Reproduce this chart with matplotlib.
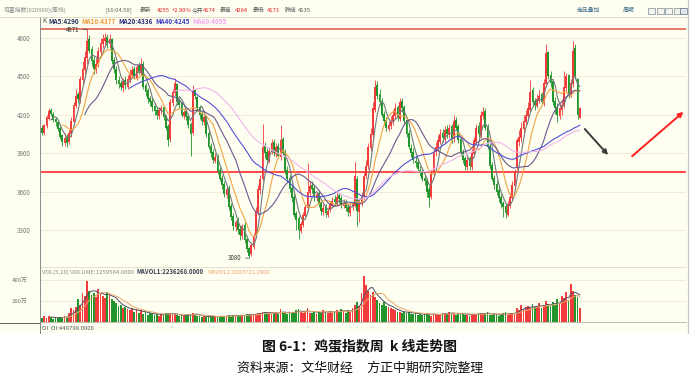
import numpy as np
import pandas as pd
import matplotlib
matplotlib.use('Agg')
import matplotlib.pyplot as plt
from matplotlib.patches import Rectangle
from matplotlib.lines import Line2D

plt.rcParams['font.family'] = ['Noto Sans CJK SC', 'DejaVu Sans']

# weekly egg index candles
opens = [4100, 4060, 4110, 4170, 4240, 4210, 4170, 4140, 4100, 4040,
         3980, 4030, 3990, 4050, 4140, 4270, 4360, 4310, 4470, 4550,
         4640, 4790, 4710, 4630, 4550, 4600, 4690, 4750, 4780, 4810,
         4750, 4790, 4630, 4560, 4470, 4450, 4410, 4470, 4420, 4470,
         4510, 4560, 4490, 4580, 4530, 4600, 4430, 4390, 4330, 4310,
         4270, 4240, 4190, 4230, 4260, 4190, 4110, 4010, 4290, 4370,
         4440, 4310, 4290, 4190, 4230, 4190, 4130, 4060, 4390, 4340,
         4260, 4210, 4140, 4190, 4060, 3960, 3910, 3840, 3880, 3770,
         3710, 3660, 3570, 3630, 3490, 3410, 3320, 3370, 3310, 3250,
         3340, 3230, 3160, 3110, 3170, 3260, 3440, 3610, 3700, 3960,
         3910, 3840, 3910, 3990, 3890, 3960, 3870, 4010, 3910, 3770,
         3710, 3630, 3560, 3430, 3390, 3290, 3340, 3410, 3470, 3590,
         3650, 3630, 3550, 3590, 3510, 3440, 3480, 3420, 3460, 3490,
         3540, 3510, 3570, 3550, 3490, 3520, 3480, 3430, 3490, 3490,
         3700, 3440, 3520, 3560, 3720, 3800, 3940, 4040, 4240, 4430,
         4360, 4310, 4210, 4160, 4090, 4110, 4140, 4190, 4260, 4170,
         4310, 4260, 4160, 4060, 3940, 3910, 3840, 3830, 3770, 3760,
         3710, 3690, 3620, 3560, 3750, 3910, 3940, 3990, 4060, 4010,
         4090, 4040, 4110, 4010, 4160, 4110, 4010, 3910, 3860, 3790,
         3860, 3790, 3890, 3990, 4110, 4040, 4190, 4230, 4110, 3960,
         3810, 3710, 3660, 3610, 3560, 3510, 3490, 3420, 3490, 3550,
         3640, 3790, 3990, 4020, 4090, 4140, 4190, 4240, 4390, 4310,
         4270, 4310, 4360, 4290, 4440, 4690, 4510, 4460, 4310, 4260,
         4190, 4240, 4270, 4410, 4510, 4360, 4440, 4720, 4480, 4174]
highs = [4120, 4130, 4200, 4250, 4250, 4220, 4180, 4150, 4110, 4050,
         4060, 4050, 4080, 4180, 4300, 4400, 4380, 4500, 4620, 4700,
         4871, 4820, 4740, 4660, 4640, 4730, 4800, 4830, 4840, 4830,
         4830, 4800, 4650, 4580, 4500, 4470, 4490, 4500, 4510, 4560,
         4580, 4580, 4600, 4610, 4640, 4620, 4450, 4410, 4350, 4330,
         4290, 4260, 4260, 4280, 4280, 4200, 4130, 4320, 4400, 4490,
         4450, 4330, 4300, 4240, 4250, 4200, 4140, 4430, 4400, 4350,
         4280, 4230, 4200, 4200, 4080, 3980, 3930, 3900, 3890, 3790,
         3730, 3680, 3650, 3650, 3510, 3430, 3380, 3400, 3340, 3350,
         3360, 3250, 3170, 3200, 3280, 3480, 3650, 3730, 4130, 3990,
         3940, 3950, 4010, 4010, 3980, 3980, 4120, 4030, 3930, 3800,
         3730, 3650, 3580, 3450, 3410, 3370, 3440, 3500, 3820, 3680,
         3680, 3650, 3600, 3610, 3530, 3500, 3500, 3480, 3530, 3560,
         3570, 3600, 3590, 3570, 3540, 3540, 3500, 3500, 3530, 3830,
         3720, 3540, 3600, 3750, 3850, 3980, 4100, 4300, 4470, 4460,
         4400, 4330, 4230, 4180, 4150, 4190, 4240, 4290, 4280, 4330,
         4330, 4280, 4180, 4080, 3970, 3940, 3880, 3860, 3800, 3780,
         3730, 3710, 3650, 3780, 3930, 3990, 4040, 4090, 4090, 4110,
         4120, 4130, 4130, 4200, 4180, 4130, 4030, 3930, 3880, 3880,
         3880, 3930, 4030, 4130, 4140, 4230, 4260, 4250, 4130, 3980,
         3830, 3730, 3690, 3640, 3580, 3530, 3510, 3530, 3590, 3680,
         3780, 4020, 4080, 4140, 4200, 4240, 4300, 4470, 4420, 4330,
         4360, 4390, 4380, 4480, 4750, 4700, 4540, 4480, 4340, 4290,
         4290, 4320, 4540, 4530, 4520, 4480, 4780, 4750, 4490, 4264]
lows = [4040, 4040, 4100, 4160, 4190, 4140, 4110, 4070, 4010, 3960,
        3960, 3950, 3970, 4030, 4120, 4250, 4290, 4290, 4440, 4520,
        4600, 4680, 4580, 4520, 4530, 4570, 4660, 4720, 4740, 4720,
        4720, 4600, 4530, 4440, 4410, 4390, 4380, 4400, 4400, 4450,
        4490, 4480, 4470, 4520, 4510, 4400, 4350, 4290, 4270, 4230,
        4200, 4170, 4170, 4210, 4160, 4080, 3960, 3990, 4270, 4350,
        4280, 4250, 4180, 4170, 4160, 4100, 3880, 4040, 4320, 4230,
        4170, 4120, 4120, 4030, 3930, 3870, 3820, 3820, 3740, 3680,
        3620, 3560, 3550, 3460, 3380, 3300, 3290, 3270, 3220, 3230,
        3200, 3130, 3080, 3100, 3150, 3240, 3420, 3580, 3680, 3860,
        3820, 3820, 3890, 3880, 3870, 3860, 3850, 3880, 3740, 3680,
        3600, 3520, 3400, 3300, 3230, 3280, 3320, 3390, 3450, 3560,
        3590, 3530, 3530, 3480, 3420, 3420, 3400, 3400, 3440, 3470,
        3490, 3490, 3510, 3470, 3470, 3450, 3410, 3410, 3460, 3480,
        3330, 3360, 3490, 3540, 3700, 3780, 3920, 4020, 4220, 4320,
        4280, 4180, 4120, 4070, 4070, 4090, 4120, 4170, 4150, 4150,
        4220, 4120, 4030, 3930, 3870, 3820, 3790, 3750, 3720, 3680,
        3650, 3560, 3480, 3540, 3720, 3880, 3920, 3970, 3990, 3980,
        4020, 4020, 3980, 3990, 4080, 3980, 3880, 3820, 3770, 3770,
        3770, 3770, 3870, 3970, 4030, 4020, 4170, 4080, 3930, 3780,
        3680, 3620, 3570, 3520, 3470, 3400, 3390, 3410, 3470, 3530,
        3620, 3770, 3960, 3990, 4060, 4120, 4170, 4220, 4270, 4240,
        4250, 4290, 4280, 4270, 4420, 4480, 4420, 4280, 4210, 4140,
        4170, 4200, 4250, 4380, 4330, 4340, 4420, 4480, 4170, 4173]
closes = [4060, 4120, 4180, 4230, 4210, 4160, 4140, 4090, 4030, 3990,
          4020, 3980, 4060, 4150, 4280, 4350, 4320, 4480, 4560, 4650,
          4780, 4700, 4620, 4560, 4600, 4700, 4760, 4790, 4800, 4760,
          4790, 4620, 4560, 4470, 4440, 4420, 4460, 4430, 4480, 4520,
          4550, 4500, 4570, 4540, 4600, 4420, 4380, 4320, 4300, 4260,
          4230, 4200, 4240, 4250, 4180, 4100, 4000, 4300, 4380, 4450,
          4300, 4280, 4200, 4220, 4180, 4120, 4050, 4380, 4350, 4250,
          4200, 4150, 4180, 4050, 3950, 3900, 3850, 3870, 3760, 3700,
          3650, 3580, 3620, 3480, 3400, 3330, 3360, 3300, 3260, 3330,
          3220, 3150, 3100, 3180, 3250, 3450, 3620, 3700, 3950, 3900,
          3850, 3920, 3980, 3900, 3950, 3880, 4000, 3900, 3760, 3700,
          3620, 3550, 3420, 3380, 3300, 3350, 3420, 3480, 3600, 3640,
          3620, 3560, 3580, 3500, 3450, 3470, 3430, 3450, 3500, 3530,
          3520, 3560, 3540, 3500, 3510, 3470, 3440, 3480, 3500, 3720,
          3450, 3520, 3560, 3720, 3800, 3950, 4050, 4250, 4420, 4350,
          4300, 4200, 4150, 4100, 4120, 4150, 4200, 4250, 4180, 4300,
          4250, 4150, 4050, 3950, 3900, 3850, 3820, 3780, 3750, 3700,
          3680, 3600, 3550, 3750, 3900, 3950, 4000, 4050, 4020, 4080,
          4050, 4100, 4000, 4150, 4100, 4000, 3900, 3850, 3800, 3850,
          3800, 3900, 4000, 4100, 4050, 4200, 4220, 4100, 3950, 3800,
          3700, 3650, 3600, 3550, 3500, 3480, 3430, 3500, 3560, 3650,
          3750, 4000, 4030, 4100, 4150, 4200, 4250, 4380, 4300, 4280,
          4320, 4350, 4300, 4450, 4680, 4500, 4450, 4300, 4250, 4200,
          4250, 4280, 4420, 4500, 4350, 4450, 4700, 4500, 4200, 4255]
# volume in 万
volumes = [40, 55, 35, 60, 45, 30, 35, 40, 50, 45,
           60, 40, 90, 130, 110, 140, 220, 160, 280, 250,
           390, 300, 260, 280, 240, 310, 270, 250, 230, 290,
           260, 220, 200, 180, 150, 160, 130, 140, 120, 110,
           130, 100, 120, 90, 110, 80, 95, 70, 85, 75,
           70, 80, 60, 75, 65, 85, 90, 80, 70, 75,
           65, 60, 70, 55, 60, 75, 80, 85, 70, 60,
           55, 50, 60, 45, 55, 50, 60, 45, 50, 55,
           60, 55, 50, 65, 55, 70, 60, 55, 65, 70,
           60, 75, 80, 70, 65, 80, 90, 85, 100, 95,
           80, 90, 75, 85, 95, 80, 120, 90, 85, 75,
           95, 100, 90, 110, 120, 95, 85, 100, 130, 90,
           85, 95, 80, 100, 90, 110, 95, 85, 105, 90,
           100, 115, 95, 120, 105, 90, 110, 100, 130, 160,
           190, 150, 280, 440, 350, 300, 260, 290, 240, 210,
           180, 160, 190, 150, 140, 130, 120, 110, 100, 95,
           90, 100, 85, 95, 80, 75, 90, 70, 80, 65,
           75, 85, 70, 60, 80, 75, 65, 70, 85, 90,
           80, 95, 75, 85, 70, 90, 80, 75, 65, 70,
           60, 75, 80, 70, 85, 90, 75, 80, 95, 70,
           65, 75, 70, 60, 80, 85, 95, 70, 75, 80,
           90, 130, 110, 160, 120, 140, 150, 130, 170, 140,
           150, 180, 130, 160, 200, 170, 150, 190, 160, 220,
           180, 250, 230, 290, 200, 360, 300, 260, 240, 130]

ma_periods = [5, 10, 20, 40, 60]
ma_colors = ['#6f7c7a', '#f2a444', '#6a5a8e', '#5252d6', '#f0b6ec']
ma_labels = ['MA5:4290', 'MA10:4377', 'MA20:4336', 'MA40:4245', 'MA60:4095']
ma_label_colors = ['#2c3560', '#f29a3a', '#2a2a78', '#3a3ac8', '#f0a6f0']
price_ticks = [3300, 3600, 3900, 4200, 4500, 4800]
vol_ticks = [200, 400]
vol_tick_labels = ['200万', '400万']
top_level = 4871
support_level = 3750
low_level = 3080

W, H = 700, 377
BG = '#fefef1'
UP = '#f23c3c'
DOWN = '#22962c'
GRID = '#eeecd6'


def fx(x):
    return x / W


def fy(y):
    return 1 - y / H


def ptext(x, y, s, **kw):
    kw.setdefault('va', 'center')
    return fig.text(fx(x), fy(y), s, **kw)


def text_row(x, y, parts, gap, **kw):
    # lay texts one after another so they never run into each other
    r = fig.canvas.get_renderer()
    for s, col, weight in parts:
        t = ptext(x, y, s, color=col, fontweight=weight, **kw)
        x += t.get_window_extent(renderer=r).width + gap


fig = plt.figure(figsize=(7, 3.77), dpi=100)
fig.patch.set_facecolor('white')
fig.patches.append(Rectangle((0, fy(333)), fx(688), 333 / H, transform=fig.transFigure,
                             facecolor=BG, edgecolor='none', zorder=-10))
fig.add_artist(Line2D([fx(688), fx(688)], [fy(333), fy(0)], color='#c9c9c4', lw=0.9))
fig.add_artist(Line2D([0, fx(688)], [fy(17), fy(17)], color='#dcdcc8', lw=0.7))
fig.add_artist(Line2D([0, fx(40)], [fy(322.5), fy(322.5)], color='#666666', lw=0.7))
fig.add_artist(Line2D([fx(40), fx(40)], [fy(333), fy(322)], color='#888888', lw=0.7))

n = len(closes)
idx = np.arange(n)
o = np.array(opens, dtype=float)
c = np.array(closes, dtype=float)
hi = np.maximum(np.array(highs, dtype=float), np.maximum(o, c))
lo = np.minimum(np.array(lows, dtype=float), np.minimum(o, c))
cols = np.where(c >= o, UP, DOWN)

# price panel
ax = fig.add_axes([fx(40), fy(267), (686 - 40) / W, (267 - 18) / H])
ax.set_facecolor('none')
ax.set_xlim(-0.9, 286.2)
ax.set_ylim(3011, 4956)
for t in price_ticks:
    ax.axhline(t, color=GRID, lw=0.7, zorder=0)
ax.axhline(top_level, color='#e07a6a', lw=1.4, zorder=1)
ax.axhline(support_level, color='#ff2b2b', lw=1.2, zorder=1)

ax.vlines(idx, lo, hi, colors=cols, lw=0.6, zorder=2)
ax.bar(idx, np.maximum(np.abs(c - o), 4), bottom=np.minimum(o, c), width=0.75,
       color=cols, linewidth=0, zorder=3)

s = pd.Series(closes, dtype=float)
for p, col in zip(ma_periods, ma_colors):
    ax.plot(idx, s.rolling(p).mean(), color=col, lw=0.8, zorder=4)

ax.annotate(str(top_level), xy=(20, top_level - 4), xytext=(13.5, top_level - 6),
            fontsize=4.4, color='#333333', ha='center', va='center', zorder=6,
            arrowprops=dict(arrowstyle='-', color='#444444', lw=0.5, shrinkA=1, shrinkB=0))
ax.annotate(str(low_level), xy=(92, low_level), xytext=(85.5, low_level + 5),
            fontsize=4.4, color='#333333', ha='center', va='center',
            arrowprops=dict(arrowstyle='-', color='#444444', lw=0.5, shrinkA=1, shrinkB=0))

# trend arrows
ax.annotate('', xy=(252.4, 3870), xytext=(240.4, 4105),
            arrowprops=dict(arrowstyle='-|>', color='#3a3a3a', lw=1.4, mutation_scale=7))
ax.annotate('', xy=(286.0, 4237), xytext=(261.3, 3862),
            arrowprops=dict(arrowstyle='-|>', color='#ff1e1e', lw=1.4, mutation_scale=7))

ax.set_xticks([])
ax.set_yticks(price_ticks)
ax.tick_params(axis='y', length=0, labelsize=4.5, labelcolor='#777777', pad=7)
for side in ['top', 'right']:
    ax.spines[side].set_visible(False)
ax.spines['left'].set_color('#8c8c8c')
ax.spines['left'].set_linewidth(0.7)
ax.spines['bottom'].set_color('#e2e0cc')
ax.spines['bottom'].set_linewidth(0.7)

# volume panel
vax = fig.add_axes([fx(40), fy(322), (686 - 40) / W, (322 - 267) / H])
vax.set_facecolor('none')
vax.set_xlim(-0.9, 286.2)
vax.set_ylim(0, 524)
for t in vol_ticks:
    vax.axhline(t, color=GRID, lw=0.7, zorder=0)
vax.bar(idx, volumes, width=0.75, color=cols, linewidth=0, zorder=2)
v = pd.Series(volumes, dtype=float)
vax.plot(idx, v.rolling(5).mean(), color='#4c5466', lw=0.7, zorder=3)
vax.plot(idx, v.rolling(10).mean(), color='#e8a66a', lw=0.7, zorder=3)
vax.set_xticks([])
vax.set_yticks(vol_ticks)
vax.set_yticklabels(vol_tick_labels)
vax.tick_params(axis='y', length=0, labelsize=4.3, labelcolor='#777777', pad=9)
for side in ['top', 'right']:
    vax.spines[side].set_visible(False)
vax.spines['left'].set_color('#8c8c8c')
vax.spines['left'].set_linewidth(0.7)
vax.spines['bottom'].set_color('#bcbcb4')
vax.spines['bottom'].set_linewidth(0.7)

# header bar
ptext(4, 10, '鸡蛋指数(020900)(周线)', fontsize=4.2, color='#8a8a8a')
ptext(105, 10, '[16:04:50]', fontsize=4.2, color='#666666')
header_items = [(140, '最新', '#555555'), (157, '4255', '#e02020'), (172, '+2.90%', '#e02020'),
                (192, '今开', '#555555'), (203, '4174', '#e02020'),
                (220, '最高', '#555555'), (235, '4264', '#e02020'),
                (253, '最低', '#555555'), (267, '4173', '#e02020'),
                (285, '昨结', '#555555'), (298, '4135', '#555555')]
for x, txt, col in header_items:
    ptext(x, 10, txt, fontsize=4.2, color=col)
ptext(577, 10, '商品叠加', fontsize=4.2, color='#3a6a8a')
ptext(623, 10, '周期', fontsize=4.2, color='#3a6a8a')
for k in range(4):
    fig.patches.append(Rectangle((fx(648 + k * 8.5), fy(14)), 7 / W, 6 / H,
                                 transform=fig.transFigure, facecolor='#f4f4ea',
                                 edgecolor='#7a8a9a', lw=0.5))
fig.patches.append(Rectangle((fx(680), fy(14)), 7 / W, 6 / H, transform=fig.transFigure,
                             facecolor='#dfe6ee', edgecolor='#5a6a7a', lw=0.5))

# MA legend row
ma_parts = [('K', '#555555', 'normal')]
ma_parts += [(lab, col, 'bold') for lab, col in zip(ma_labels, ma_label_colors)]
text_row(42, 21, ma_parts, 2.5, fontsize=4.6)

# volume legend row
vol_parts = [('VOL(5,10) VOLUME:1259564.0000', '#8a8a8a', 'normal'),
             ('MAVOL1:2236268.0000', '#3a4050', 'bold'),
             ('MAVOL2:2083721.2000', '#f0a46a', 'normal')]
text_row(42, 272, vol_parts, 3, fontsize=4.3)
ptext(42, 328, 'OI  OI:449798.0000', fontsize=4.3, color='#555555')

# caption
ptext(360, 346, '图 6-1：鸡蛋指数周  k 线走势图', fontsize=10, fontweight='bold',
      color='#111111', ha='center')
ptext(360, 368, '资料来源：文华财经     方正中期研究院整理', fontsize=9.3,
      color='#111111', ha='center')

fig.savefig('out.png', dpi=100, facecolor=fig.get_facecolor())
